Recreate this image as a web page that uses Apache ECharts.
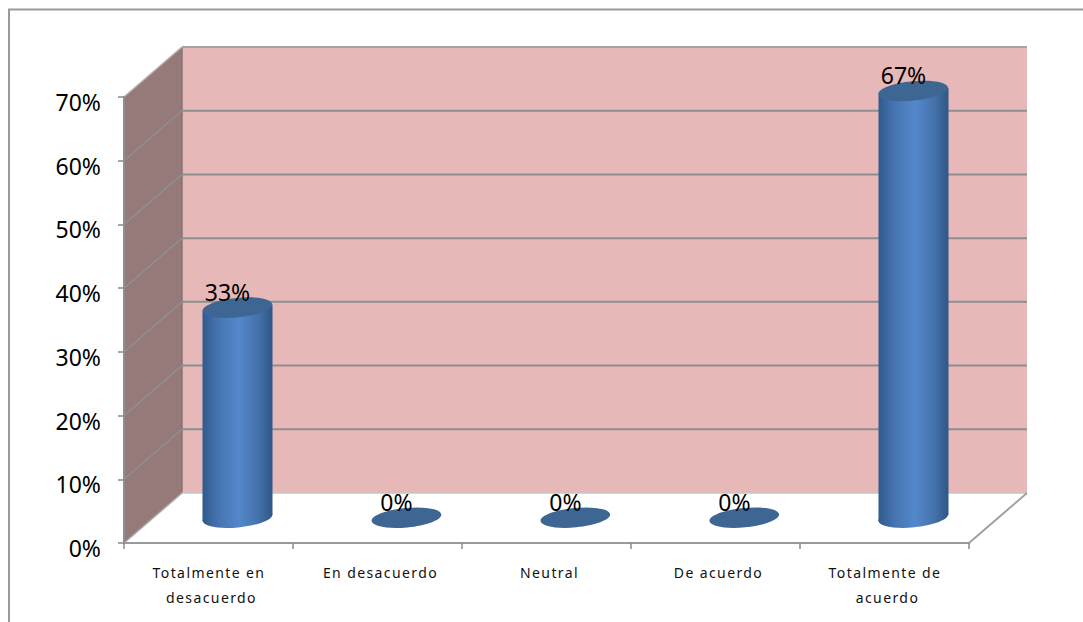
<!DOCTYPE html>
<html>
<head>
<meta charset="utf-8">
<style>
html,body{margin:0;padding:0;background:#fff}
#chart{width:1083px;height:622px}
text[style*="14px"]{letter-spacing:1.4px;translate:3px 0}
</style>
<script src="https://cdn.jsdelivr.net/npm/echarts@6/dist/echarts.min.js"></script>
</head>
<body>
<div id="chart"></div>
<script>
const categories = ['Totalmente en desacuerdo', 'En desacuerdo', 'Neutral', 'De acuerdo', 'Totalmente de acuerdo'];
const percentValues = [33, 0, 0, 0, 67];
const axisTicks = [0, 10, 20, 30, 40, 50, 60, 70];

const depthX = 58, depthY = 50;
const barShiftX = depthX / 2, barShiftY = depthY / 2;
const radiusX = 35, radiusY = 9.7, tilt = 5.5 * Math.PI / 180;
const gridGrey = '#8e8e8e';
const bodyFill = new echarts.graphic.LinearGradient(0, 0, 1, 0, [
  { offset: 0, color: '#2f5a8c' },
  { offset: 0.22, color: '#4674b0' },
  { offset: 0.52, color: '#5488cc' },
  { offset: 0.8, color: '#4471aa' },
  { offset: 1, color: '#2e5785' }
]);

function line(x1, y1, x2, y2, color, width) {
  return { type: 'line', shape: { x1, y1, x2, y2 }, style: { stroke: color, lineWidth: width } };
}

function renderWalls(params, api) {
  const g = params.coordSys;
  const left = g.x, right = g.x + g.width, top = g.y, bottom = g.y + g.height;
  const kids = [
    { type: 'polygon', shape: { points: [[left, bottom], [left, top], [left + depthX, top - depthY], [left + depthX, bottom - depthY]] }, style: { fill: '#967a7a' } },
    { type: 'rect', shape: { x: left + depthX, y: top - depthY, width: g.width, height: g.height }, style: { fill: '#e6b8b7' } },
    line(left + depthX, top - depthY, left + depthX, bottom - depthY, '#8a7373', 1.5),
    line(left + depthX, bottom - depthY, right + depthX, bottom - depthY, '#c9c4c4', 1.5),
    line(left, bottom, left + depthX, bottom - depthY, '#a8a8a8', 1.5),
    line(right, bottom, right + depthX, bottom - depthY, '#a0a0a0', 2)
  ];
  axisTicks.forEach(function (t) {
    const y = api.coord([0, t])[1];
    if (t > 0) {
      kids.push(line(left + depthX, y - depthY, right + depthX, y - depthY, t === 70 ? '#a9a1a1' : gridGrey, 2));
      kids.push(line(left, y, left + depthX, y - depthY, t === 70 ? '#b5aaaa' : '#8f8f8f', 1.5));
    }
  });
  return { type: 'group', children: kids };
}

function renderBar(params, api) {
  const idx = api.value(0), val = api.value(1);
  const base = api.coord([idx, 0]), head = api.coord([idx, val]);
  const cx = base[0] + barShiftX, by = base[1] - barShiftY, ty = head[1] - barShiftY;
  const dy = radiusX * Math.tan(tilt) * 0.9;
  const ell = function (y, fill) {
    return { type: 'ellipse', shape: { cx: cx, cy: y, rx: radiusX, ry: radiusY }, rotation: tilt, originX: cx, originY: y, style: { fill: fill } };
  };
  const kids = [];
  if (val > 0) {
    kids.push(ell(by, bodyFill));
    kids.push({ type: 'polygon', shape: { points: [[cx - radiusX, ty + dy], [cx + radiusX, ty - dy], [cx + radiusX, by - dy], [cx - radiusX, by + dy]] }, style: { fill: bodyFill } });
  }
  kids.push(ell(ty, '#3d6693'));
  kids.push({ type: 'text', x: cx - 10, y: ty - 16, style: { text: val + '%', fill: '#000', font: '23px "Noto Sans"', align: 'center', verticalAlign: 'middle' } });
  return { type: 'group', children: kids };
}

const chart = echarts.init(document.getElementById('chart'), null, { renderer: 'svg' });
chart.setOption({
  animation: false,
  backgroundColor: '#fff',
  grid: { left: 124, right: 114, top: 97, bottom: 79 },
  graphic: [{
    type: 'polyline', silent: true,
    shape: { points: [[9, 622], [9, 9.5], [1083, 9.5]] },
    style: { stroke: '#9a9a9a', fill: null, lineWidth: 2 }
  }],
  xAxis: {
    type: 'category', data: categories, z: 5,
    axisLine: { show: true, lineStyle: { color: '#9a9a9a', width: 2 } },
    axisTick: { show: true, alignWithLabel: false, length: 6, lineStyle: { color: '#8a8a8a', width: 1.5 } },
    axisLabel: { interval: 0, color: '#111', fontFamily: 'Noto Sans', fontSize: 14, lineHeight: 25, width: 125, overflow: 'break', margin: 17 }
  },
  yAxis: {
    type: 'value', min: 0, max: 70, interval: 10, z: 5,
    axisLine: { show: true, lineStyle: { color: '#8e8e8e', width: 2 } },
    axisTick: { show: true, length: 6, lineStyle: { color: '#8a8a8a', width: 1.5 } },
    splitLine: { show: false },
    axisLabel: { formatter: '{value}%', color: '#000', fontFamily: 'Noto Sans', fontSize: 23, margin: 23, verticalAlign: 'top', lineHeight: 10 }
  },
  series: [
    { type: 'custom', silent: true, clip: false, z: 1, coordinateSystem: 'cartesian2d', data: [[0, 0]], renderItem: renderWalls },
    { type: 'custom', silent: true, clip: false, z: 3, coordinateSystem: 'cartesian2d', encode: { x: 0, y: 1 },
      data: percentValues.map(function (v, i) { return [i, v]; }), renderItem: renderBar }
  ]
});
</script>
</body>
</html>
